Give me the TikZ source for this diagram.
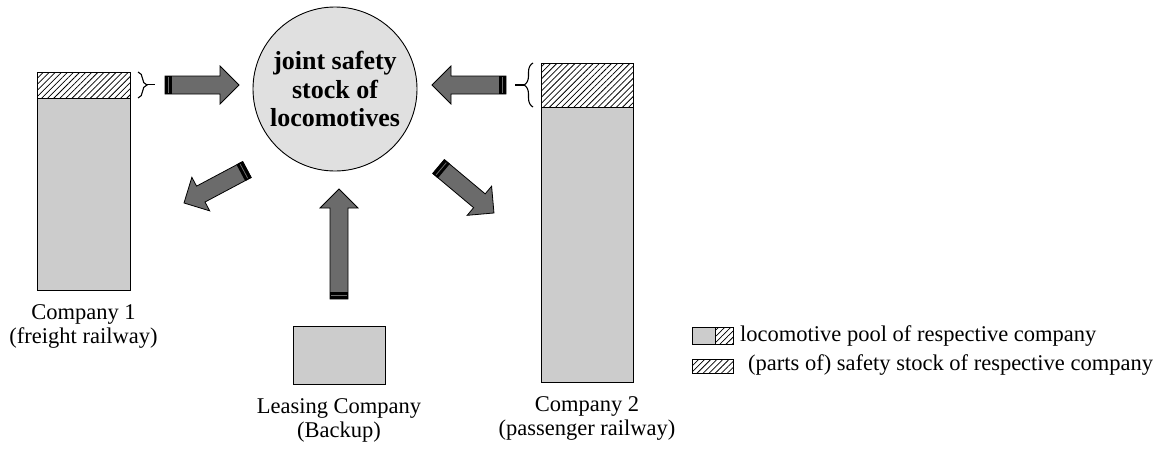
\documentclass[tikz,border=0pt]{standalone}
\usepackage{fontspec}
\setmainfont{Liberation Serif}
\usetikzlibrary{positioning,calc,patterns.meta,decorations.pathreplacing}

\definecolor{poolgray}{gray}{0.8}
\definecolor{jointgray}{gray}{0.88}
\definecolor{arrowgray}{gray}{0.42}

\tikzset{
  pool/.style={draw, line width=0.9pt, fill=poolgray, inner sep=0pt, outer sep=0pt},
  safety/.style={draw, line width=0.9pt, preaction={fill=white},
    pattern={Lines[angle=45,distance=4.3pt,line width=0.75pt]}, inner sep=0pt, outer sep=0pt},
  caption/.style={align=center, inner sep=0pt, font=\fontsize{22.5}{24}\selectfont},
  legendtext/.style={anchor=base west, inner sep=0pt, font=\fontsize{22.5}{24}\selectfont},
  arrowbody/.style={draw=black, line width=0.8pt, fill=arrowgray, line join=miter},
  stockbrace/.style={decorate, decoration={brace, amplitude=9pt}, line width=1.1pt},
}

% block arrow from a tail coordinate to a tip coordinate
\newcommand{\fatarrow}[2]{%
  \path let \p1=($(#2)-(#1)$) in
    \pgfextra{\pgfmathsetmacro{\faang}{atan2(\y1,\x1)}\pgfmathsetmacro{\falen}{veclen(\x1,\y1)}%
      \xdef\faang{\faang}\xdef\falen{\falen}};
  \begin{scope}[shift={(#1)}, rotate=\faang]
    \draw[arrowbody] (0pt,-9pt) -- ({\falen pt-19pt},-9pt) -- ({\falen pt-19pt},-19pt)
      -- (\falen pt,0pt) -- ({\falen pt-19pt},19pt) -- ({\falen pt-19pt},9pt) -- (0pt,9pt) -- cycle;
    \fill[black] (0pt,-9.4pt) rectangle (7pt,9.4pt);
    \draw[arrowgray, line width=0.8pt] (3.5pt,-8pt) -- (3.5pt,8pt);
  \end{scope}}

\begin{document}
\begin{tikzpicture}[x=1pt, y=-1pt]
\useasboundingbox (0,0) rectangle (1162,450);

% company 1
\node[safety, minimum width=93pt, minimum height=26pt] (c1safe) at (83.5,85) {};
\node[pool, minimum width=93pt, minimum height=192pt, below=0pt of c1safe] (c1pool) {};
\node[caption, below=14pt of c1pool] (c1name) {Company 1\\(freight railway)};

% company 2
\node[safety, minimum width=92pt, minimum height=44pt] (c2safe) at (587,85) {};
\node[pool, minimum width=92pt, minimum height=275pt, below=0pt of c2safe] (c2pool) {};
\node[caption, below=14pt of c2pool] (c2name) {Company 2\\(passenger railway)};

% joint safety stock
\node[circle, draw, line width=0.9pt, fill=jointgray, minimum size=164pt, inner sep=0pt,
  align=center, font=\bfseries\fontsize{26}{28.5}\selectfont] (joint) at (335,89)
  {joint safety\\stock of\\locomotives};

% leasing company
\node[pool, minimum width=92pt, minimum height=58pt] (lease) at (339,355) {};
\node[caption, below=14pt of lease] (leasename) {Leasing Company\\(Backup)};

% braces
\draw[stockbrace] ($(c1safe.north east)+(8,0)$) -- ($(c1safe.south east)+(8,0)$);
\coordinate (b1tip) at (155,84.5);
\draw[line width=1.1pt] (146,84.5) -- (b1tip);
\draw[stockbrace] ($(c2safe.south west)+(-8,0)$) -- ($(c2safe.north west)+(-8,0)$);
\coordinate (b2tip) at (515,85);
\draw[line width=1.1pt] (524,85) -- (b2tip);

% arrows
\coordinate (a1tail) at (165,85);      \coordinate (a1tip) at (239,85);
\coordinate (a2tail) at (506,85);      \coordinate (a2tip) at (432,85);
\coordinate (a3tail) at (247,169.5);   \coordinate (a3tip) at (184,203);
\coordinate (a4tail) at (438.5,166.5); \coordinate (a4tip) at (494,213);
\coordinate (a5tail) at (339,299);     \coordinate (a5tip) at (339,189);
\fatarrow{a1tail}{a1tip}
\fatarrow{a2tail}{a2tip}
\fatarrow{a3tail}{a3tip}
\fatarrow{a4tail}{a4tip}
\fatarrow{a5tail}{a5tip}

% legend
\node[pool, minimum width=23pt, minimum height=17pt] (keypool) at (703.5,335.5) {};
\node[safety, minimum width=18pt, minimum height=17pt, right=0pt of keypool] (keysafe) {};
\node[legendtext] (keytext1) at (740,341) {locomotive pool of respective company};
\node[safety, minimum width=41pt, minimum height=14pt] (keystock) at (712.5,366) {};
\node[legendtext] (keytext2) at (748,370) {(parts of) safety stock of respective company};
\end{tikzpicture}
\end{document}
